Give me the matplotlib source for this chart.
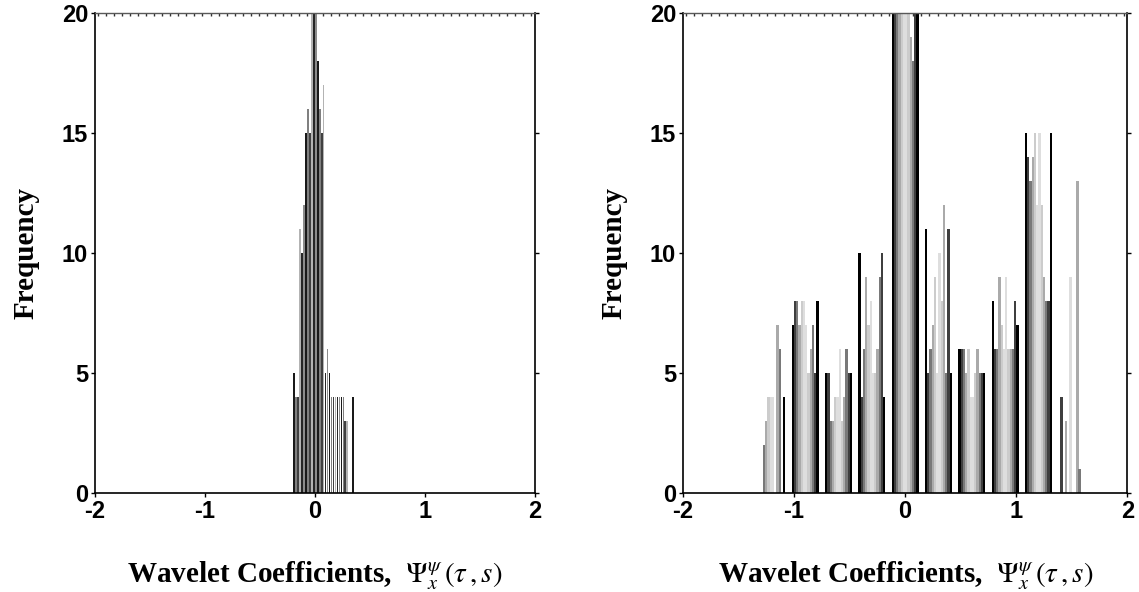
import numpy as np
import matplotlib.pyplot as plt
from matplotlib.ticker import MultipleLocator

# narrow-scale histogram: bin centres and counts
left_centres = [-0.190, -0.172, -0.154, -0.136, -0.118, -0.100, -0.082, -0.064,
                -0.046, -0.028, -0.010, 0.008, 0.026, 0.044, 0.062, 0.080,
                0.098, 0.116, 0.134, 0.152, 0.170, 0.188, 0.206, 0.224,
                0.242, 0.260, 0.278, 0.296, 0.314, 0.332, 0.350]
left_counts = [5, 4, 4, 11, 10, 12, 15, 16,
               15, 20, 20, 20, 18, 16, 15, 17,
               5, 6, 5, 4, 4, 4, 4, 4,
               4, 4, 3, 3, 0, 0, 4]

# wide-scale histogram: bin centres, one count per series (12 series per bin)
right_centres = [-1.2, -0.9, -0.6, -0.3, 0.0, 0.3, 0.6, 0.9, 1.2, 1.5]
right_counts = [
    [0, 0, 2, 3, 4, 4, 4, 0, 7, 6, 0, 4],
    [7, 8, 8, 7, 8, 8, 7, 5, 6, 7, 5, 8],
    [5, 5, 3, 3, 4, 4, 6, 3, 4, 6, 5, 5],
    [10, 4, 6, 9, 7, 8, 5, 5, 6, 9, 10, 4],
    [22, 21, 23, 22, 21, 21, 22, 21, 19, 18, 21, 22],
    [11, 5, 6, 7, 9, 5, 10, 8, 12, 5, 11, 5],
    [6, 6, 6, 5, 6, 4, 4, 5, 6, 5, 5, 5],
    [8, 6, 6, 9, 7, 6, 9, 6, 6, 6, 8, 7],
    [15, 14, 13, 14, 15, 12, 15, 12, 9, 8, 8, 15],
    [0, 4, 0, 3, 0, 9, 0, 0, 13, 1, 0, 0],
]

xticks = [-2, -1, 0, 1, 2]
yticks = [0, 5, 10, 15, 20]

plt.rcParams['mathtext.fontset'] = 'stix'
tick_font = {'family': ['Liberation Sans Narrow', 'Liberation Sans', 'DejaVu Sans'],
             'weight': 'bold', 'size': 17}
label_font = {'family': ['Liberation Serif', 'DejaVu Serif'], 'weight': 'bold', 'size': 21}
xlabel_text = r'Wavelet Coefficients,  $\Psi_x^{\psi}\,(\tau\,,s)$'


def style_axes(ax):
    ax.set_xlim(-2, 2)
    ax.set_ylim(0, 20)
    ax.set_xticks(xticks)
    ax.set_yticks(yticks)
    ax.set_xticklabels([str(t) for t in xticks], fontdict=tick_font)
    ax.set_yticklabels([str(t) for t in yticks], fontdict=tick_font)
    ax.tick_params(direction='out', length=3, width=1, pad=2, right=True)
    for s in ax.spines.values():
        s.set_linewidth(1.2)
    ax.spines['top'].set_color('0.35')
    ax.spines['top'].set_linewidth(1.0)
    # fine tick comb along the top edge
    top = ax.secondary_xaxis('top')
    top.xaxis.set_major_locator(MultipleLocator(0.073))
    top.tick_params(direction='in', length=2.5, width=1, labeltop=False, color='0.2')
    top.spines['top'].set_visible(False)
    ax.set_xlabel(xlabel_text, fontdict=label_font, labelpad=26)
    ax.set_ylabel('Frequency', fontdict=label_font, labelpad=16)


fig = plt.figure(figsize=(11.39, 5.92), dpi=100)
ax1 = fig.add_axes([0.0834, 0.167, 0.386, 0.811])
ax2 = fig.add_axes([0.5997, 0.167, 0.390, 0.811])

# left: thin bars with alternating grey levels
shades = ['0.1', '0.5', '0.25', '0.7', '0.15', '0.55']
left_colors = [shades[i % len(shades)] for i in range(len(left_centres))]
ax1.bar(left_centres, left_counts, width=0.016, color=left_colors, linewidth=0)

# right: grouped bars, grey ramp dark -> light -> dark inside each bin
n_series = len(right_counts[0])
group_width = 0.243
bar_w = group_width / n_series
levels = 0.88 * np.sin(np.pi * np.arange(n_series) / (n_series - 1))
for c, counts in zip(right_centres, right_counts):
    xs = c - group_width / 2 + bar_w * (np.arange(n_series) + 0.5)
    ax2.bar(xs, counts, width=bar_w * 1.02, color=[str(v) for v in levels], linewidth=0)

style_axes(ax1)
style_axes(ax2)

fig.savefig('out.png', dpi=100)
